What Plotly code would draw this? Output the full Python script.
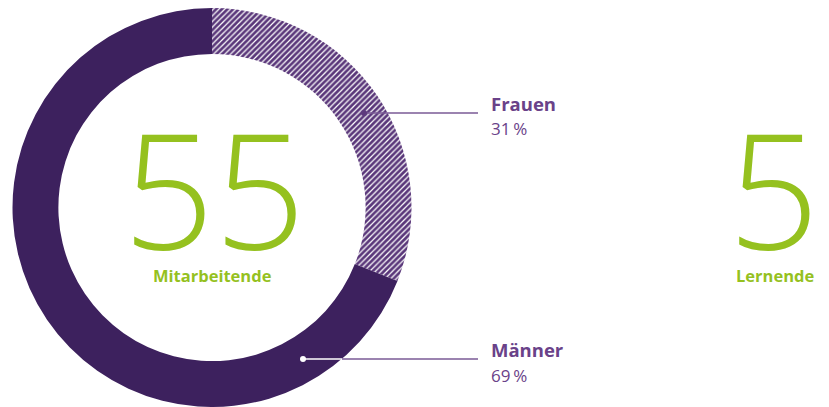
import plotly.graph_objects as go

# Data
labels = ["Frauen", "Männer"]
shares = [31, 69]
share_text = ["31\u2009%", "69\u2009%"]
staff_count = 55
staff_label = "Mitarbeitende"
trainee_count = 5
trainee_label = "Lernende"

# page has an 8px body margin, so the figure is a bit smaller than the window
OFF = 8
W = 821
H = 399
GREEN = "#95c11f"
PURPLE = "#6a4289"


def px(x):
    return (x - OFF) / W


def py(y):
    return 1 - (y - OFF) / H


def make_donut():
    fig = go.Figure()
    fig.add_trace(go.Pie(
        labels=labels,
        values=shares,
        sort=False,
        direction="clockwise",
        rotation=0,
        hole=0.77,
        textinfo="none",
        hoverinfo="label+percent",
        showlegend=False,
        domain=dict(x=[px(12), px(412)], y=[0, 1]),
        marker=dict(
            colors=["white", "#3d215e"],
            line=dict(width=0),
            pattern=dict(shape=["/", ""], fgcolor="#5a377a", bgcolor="white",
                         size=4, solidity=0.7),
        ),
    ))
    return fig


def add_labels(fig):
    font = "Open Sans, Noto Sans, sans-serif"
    # leader lines
    fig.add_shape(type="line", xref="paper", yref="paper",
                  x0=px(364), y0=py(113), x1=px(478), y1=py(113),
                  line=dict(color="#7a5a96", width=1.5))
    fig.add_shape(type="circle", xref="paper", yref="paper",
                  x0=px(361), y0=py(110), x1=px(367), y1=py(116),
                  fillcolor="#5e3a7d", line=dict(width=0))
    fig.add_shape(type="line", xref="paper", yref="paper",
                  x0=px(303), y0=py(359), x1=px(342), y1=py(359),
                  line=dict(color="white", width=1.5))
    fig.add_shape(type="line", xref="paper", yref="paper",
                  x0=px(342), y0=py(359), x1=px(478), y1=py(359),
                  line=dict(color="#7a5a96", width=1.5))
    fig.add_shape(type="circle", xref="paper", yref="paper",
                  x0=px(300), y0=py(356), x1=px(306), y1=py(362),
                  fillcolor="white", line=dict(width=0))

    ys = [103, 349]
    for i in range(len(labels)):
        fig.add_annotation(x=px(489), y=py(ys[i]), xref="paper", yref="paper",
                           text="<b>" + labels[i] + "</b>", showarrow=False,
                           xanchor="left", yanchor="middle",
                           font=dict(family=font, size=18.5, color=PURPLE))
        fig.add_annotation(x=px(489), y=py(ys[i] + 26), xref="paper", yref="paper",
                           text=share_text[i], showarrow=False,
                           xanchor="left", yanchor="middle",
                           font=dict(family=font, size=17, color=PURPLE))

    # big numbers (box height trimmed so it does not cover the caption)
    fig.add_annotation(x=px(214), y=py(187), xref="paper", yref="paper",
                       text=str(staff_count), showarrow=False, height=132,
                       xanchor="center", yanchor="middle",
                       font=dict(family=font, size=160, color=GREEN, weight=300))
    fig.add_annotation(x=px(212), y=py(275), xref="paper", yref="paper",
                       text="<b>" + staff_label + "</b>", showarrow=False,
                       xanchor="center", yanchor="middle",
                       font=dict(family=font, size=16.5, color=GREEN))
    fig.add_annotation(x=px(773), y=py(187), xref="paper", yref="paper",
                       text=str(trainee_count), showarrow=False, height=132,
                       xanchor="center", yanchor="middle",
                       font=dict(family=font, size=160, color=GREEN, weight=300))
    fig.add_annotation(x=px(775), y=py(275), xref="paper", yref="paper",
                       text="<b>" + trainee_label + "</b>", showarrow=False,
                       xanchor="center", yanchor="middle",
                       font=dict(family=font, size=16.5, color=GREEN))


fig = make_donut()
add_labels(fig)
fig.update_layout(
    width=W, height=H,
    margin=dict(l=0, r=0, t=0, b=0),
    paper_bgcolor="white",
    plot_bgcolor="white",
)
fig.write_html("out.html")
